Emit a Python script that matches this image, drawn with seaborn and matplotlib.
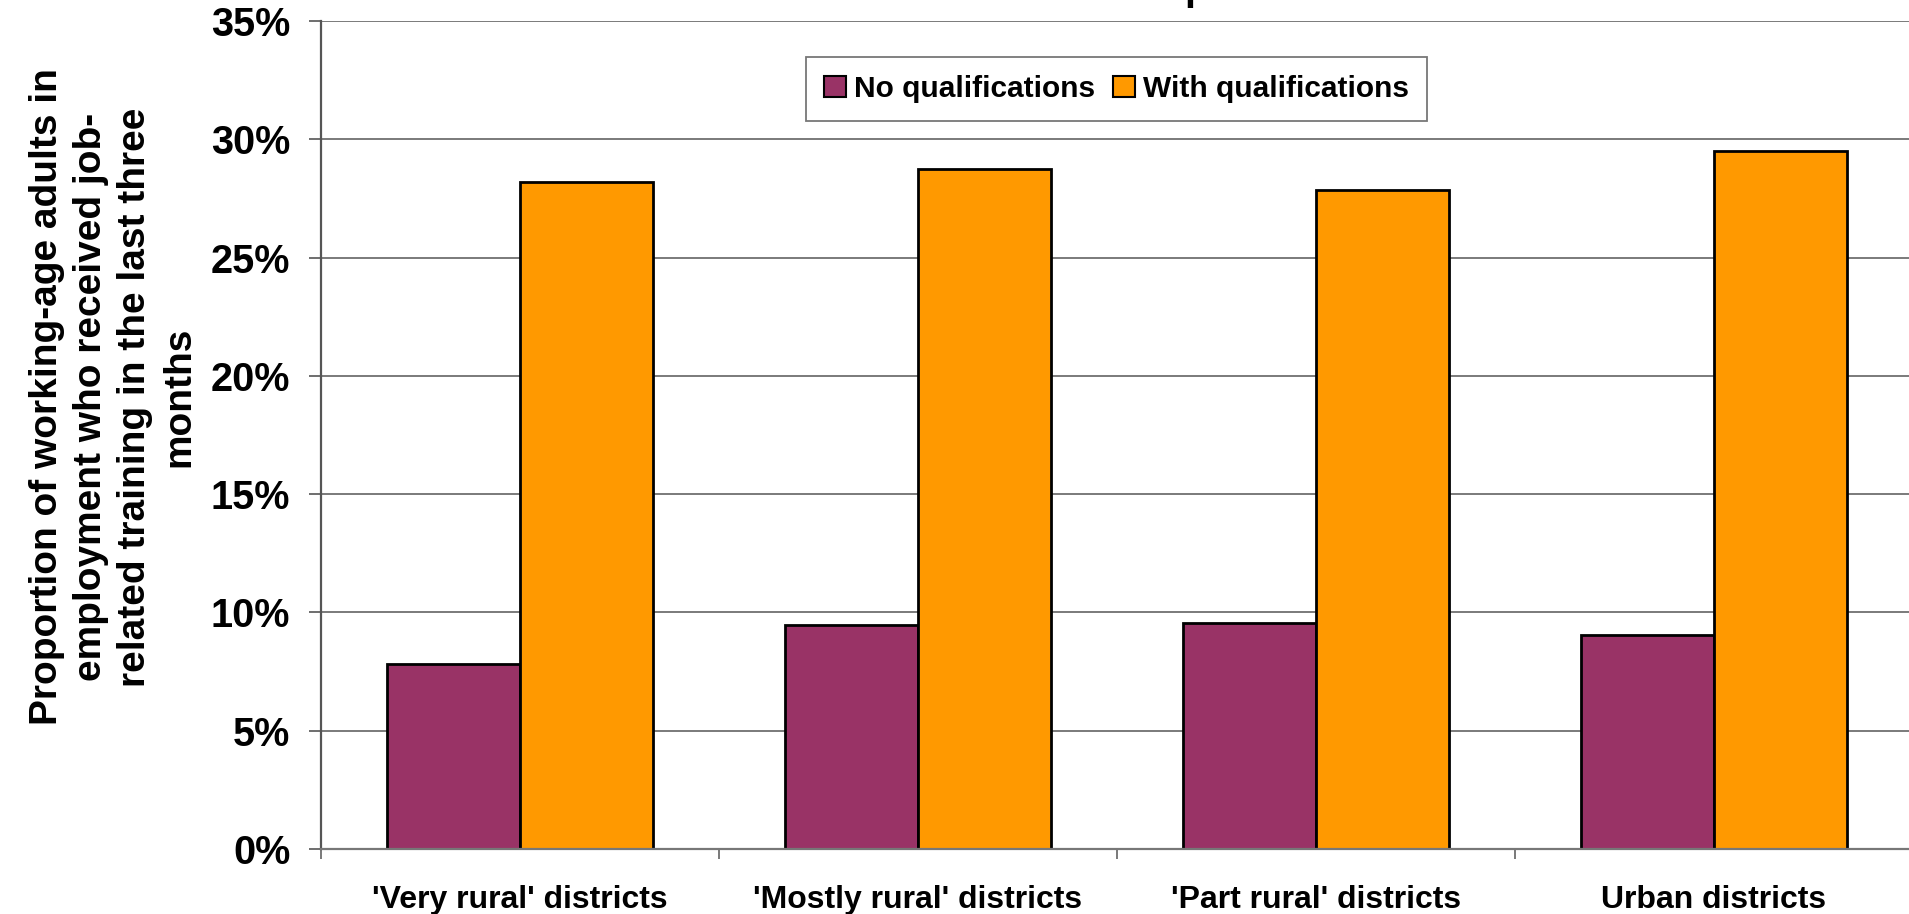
import matplotlib
matplotlib.use("Agg")
import matplotlib.pyplot as plt
import seaborn as sns
import pandas as pd
from matplotlib.ticker import FixedLocator, FuncFormatter
from matplotlib.patches import Patch

categories = ["'Very rural' districts", "'Mostly rural' districts",
              "'Part rural' districts", "Urban districts"]
series_names = ["No qualifications", "With qualifications"]
no_qual = [7.8, 9.45, 9.55, 9.05]
with_qual = [28.2, 28.75, 27.85, 29.5]
y_ticks = [0, 5, 10, 15, 20, 25, 30, 35]
colors = ["#993366", "#FF9900"]
title_text = "than those with qualifications"
ylabel_text = ("Proportion of working-age adults in\nemployment who received job-\n"
               "related training in the last three\nmonths")

df = pd.DataFrame({
    "category": categories * 2,
    "series": [series_names[0]] * 4 + [series_names[1]] * 4,
    "value": no_qual + with_qual,
})

plt.rcParams['font.family'] = ['Liberation Sans', 'DejaVu Sans']
plt.rcParams['font.weight'] = 'bold'

W, H = 1909, 914
fig = plt.figure(figsize=(W / 100, H / 100), dpi=100)
x0, cat_w = 321, 398
y_base, y_top = 849, 21
ax = fig.add_axes([x0 / W, 1 - y_base / H, 4 * cat_w / W, (y_base - y_top) / H])

sns.barplot(data=df, x="category", y="value", hue="series", order=categories,
            hue_order=series_names, palette=colors, width=2 / 3, ax=ax,
            edgecolor="black", linewidth=2.0, saturation=1, legend=False)

ax.set_xlim(-0.5, 3.5)
ax.set_ylim(0, 35)
ax.set_yticks(y_ticks)
ax.yaxis.set_major_formatter(FuncFormatter(lambda v, p: f"{int(v)}%"))
ax.yaxis.grid(True, color="#707070", linewidth=1.3)
ax.set_axisbelow(True)
for s in ["top", "right"]:
    ax.spines[s].set_visible(False)
ax.spines["left"].set_color("#555555")
ax.spines["left"].set_linewidth(1.6)
ax.spines["bottom"].set_color("#777777")
ax.spines["bottom"].set_linewidth(1.6)

ax.tick_params(axis="y", which="major", length=8.6, width=1.2, color="#555555",
               pad=13.5, labelsize=28.5)
ax.tick_params(axis="x", which="major", length=0, pad=26, labelsize=23)
ax.xaxis.set_minor_locator(FixedLocator([-0.5, 0.5, 1.5, 2.5, 3.5]))
ax.tick_params(axis="x", which="minor", length=7.5, width=1.1, color="#555555")
for lab in ax.get_xticklabels() + ax.get_yticklabels():
    lab.set_fontweight("bold")
ax.set_xlabel("")
ax.set_ylabel("")

fig.text(113 / W, 1 - 397 / H, ylabel_text, rotation=90, ha="center",
         va="center", fontsize=28, fontweight="bold", linespacing=1.29,
         multialignment="center")

fig.text(1150 / W, 1 - 0.3 / H, title_text, ha="center", va="baseline",
         fontsize=28, fontweight="bold")

handles = [Patch(facecolor=c, edgecolor="black", linewidth=1.5) for c in colors]
leg = fig.legend(handles, series_names, loc="upper left",
                 bbox_to_anchor=(806 / W, 1 - 57 / H), ncol=2, fontsize=21.5,
                 frameon=True, fancybox=False, edgecolor="#555555",
                 handlelength=0.75, handleheight=0.75, handletextpad=0.25,
                 columnspacing=0.6, borderpad=0.6, borderaxespad=0)
leg.get_frame().set_linewidth(1.3)
for t in leg.get_texts():
    t.set_fontweight("bold")

fig.savefig("out.png", dpi=100)
